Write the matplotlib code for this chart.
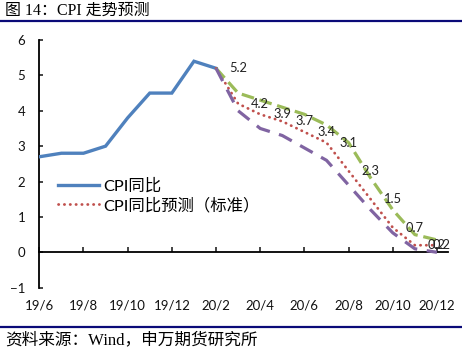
import matplotlib
matplotlib.use("Agg")
import matplotlib.pyplot as plt
from matplotlib.lines import Line2D

# ---- data ----
tick_labels = ["19/6", "19/8", "19/10", "19/12", "20/2", "20/4", "20/6", "20/8", "20/10", "20/12"]
actual_months = list(range(0, 9))            # 19/6 .. 20/2
actual_cpi = [2.7, 2.8, 2.8, 3.0, 3.8, 4.5, 4.5, 5.4, 5.2]
fc_months = list(range(8, 19))               # 20/2 .. 20/12
fc_standard = [5.2, 4.2, 3.9, 3.7, 3.4, 3.1, 2.3, 1.5, 0.7, 0.2, 0.2]
fc_high = [5.2, 4.5, 4.3, 4.1, 3.9, 3.6, 3.1, 2.1, 1.2, 0.5, 0.35]
fc_low = [5.2, 4.0, 3.5, 3.3, 2.95, 2.6, 1.9, 1.2, 0.55, 0.1, 0.0]
legend_labels = ["CPI同比", "CPI同比预测（标准）"]
title_text = "图 14：CPI 走势预测"
source_text = "资料来源：Wind，申万期货研究所"

BLUE = "#4F81BD"
RED = "#C0504D"
GREEN = "#9BBB59"
PURPLE = "#8064A2"
NAVY = "#0A0A78"

sans = ["Lato", "Noto Sans CJK SC", "DejaVu Sans"]
serif = ["Liberation Serif", "Noto Sans CJK SC", "DejaVu Sans"]
plt.rcParams["font.family"] = sans

W, H = 462, 350
fig = plt.figure(figsize=(W / 100, H / 100), dpi=100)
ax = fig.add_axes([39.3 / W, 1 - 287.7 / H, (448 - 39.3) / W, (287.7 - 40) / H])

XMAX = 18.5
ax.set_xlim(0, XMAX)
ax.set_ylim(-1, 6)

l_act, = ax.plot(actual_months, actual_cpi, color=BLUE, lw=2.4, solid_joinstyle="miter", zorder=3)
l_std, = ax.plot(fc_months, fc_standard, color=RED, lw=2.0, linestyle=(0, (0.1, 2.0)),
                 dash_capstyle="round", zorder=4)
ax.plot(fc_months, fc_high, color=GREEN, lw=2.3, linestyle=(0, (4, 1.8)), zorder=4)
ax.plot(fc_months, fc_low, color=PURPLE, lw=2.3, linestyle=(0, (4.5, 3)), zorder=5)

# data labels (standard forecast)
for m, v in zip(fc_months, fc_standard):
    lx = min(m + 1, XMAX - 0.3)
    ax.text(lx, v, f"{v:.1f}", ha="center", va="center", fontsize=9.3,
            color="#222222", zorder=6)

# axes styling
for s in ["top", "right"]:
    ax.spines[s].set_visible(False)
ax.spines["bottom"].set_position(("data", 0))
ax.spines["left"].set_linewidth(1.3)
ax.spines["bottom"].set_linewidth(1.3)
ax.spines["left"].set_bounds(-1, 6)

ax.set_xticks(list(range(0, 19, 2)))
ax.set_xticklabels(tick_labels)
ax.set_yticks(range(-1, 7))
ax.tick_params(axis="x", direction="in", length=3.4, width=1.1, pad=34,
               labelsize=9.5, colors="#111111")
ax.tick_params(axis="y", direction="in", length=3, width=1.1, pad=10,
               labelsize=9.5, colors="#111111")

leg = ax.legend([l_act, l_std], legend_labels, loc="upper left",
                bbox_to_anchor=(58 / W, 1 - 178 / H), bbox_transform=fig.transFigure,
                frameon=False, fontsize=11.8, handlelength=2.5, handletextpad=0.25,
                labelspacing=0.25, borderpad=0, borderaxespad=0)

# title and source
fig.text(5 / W, 1 - 11 / H, title_text, fontsize=11.5, family=serif, ha="left", va="center")
fig.add_artist(Line2D([0, 1], [1 - 20.7 / H, 1 - 20.7 / H], color=NAVY, lw=1.6,
                      transform=fig.transFigure))
fig.add_artist(Line2D([0, 1], [1 - 327.3 / H, 1 - 327.3 / H], color=NAVY, lw=1.6,
                      transform=fig.transFigure))
fig.text(5 / W, 1 - 340 / H, source_text, fontsize=12, family=serif, ha="left", va="center")

fig.savefig("out.png", dpi=100)
